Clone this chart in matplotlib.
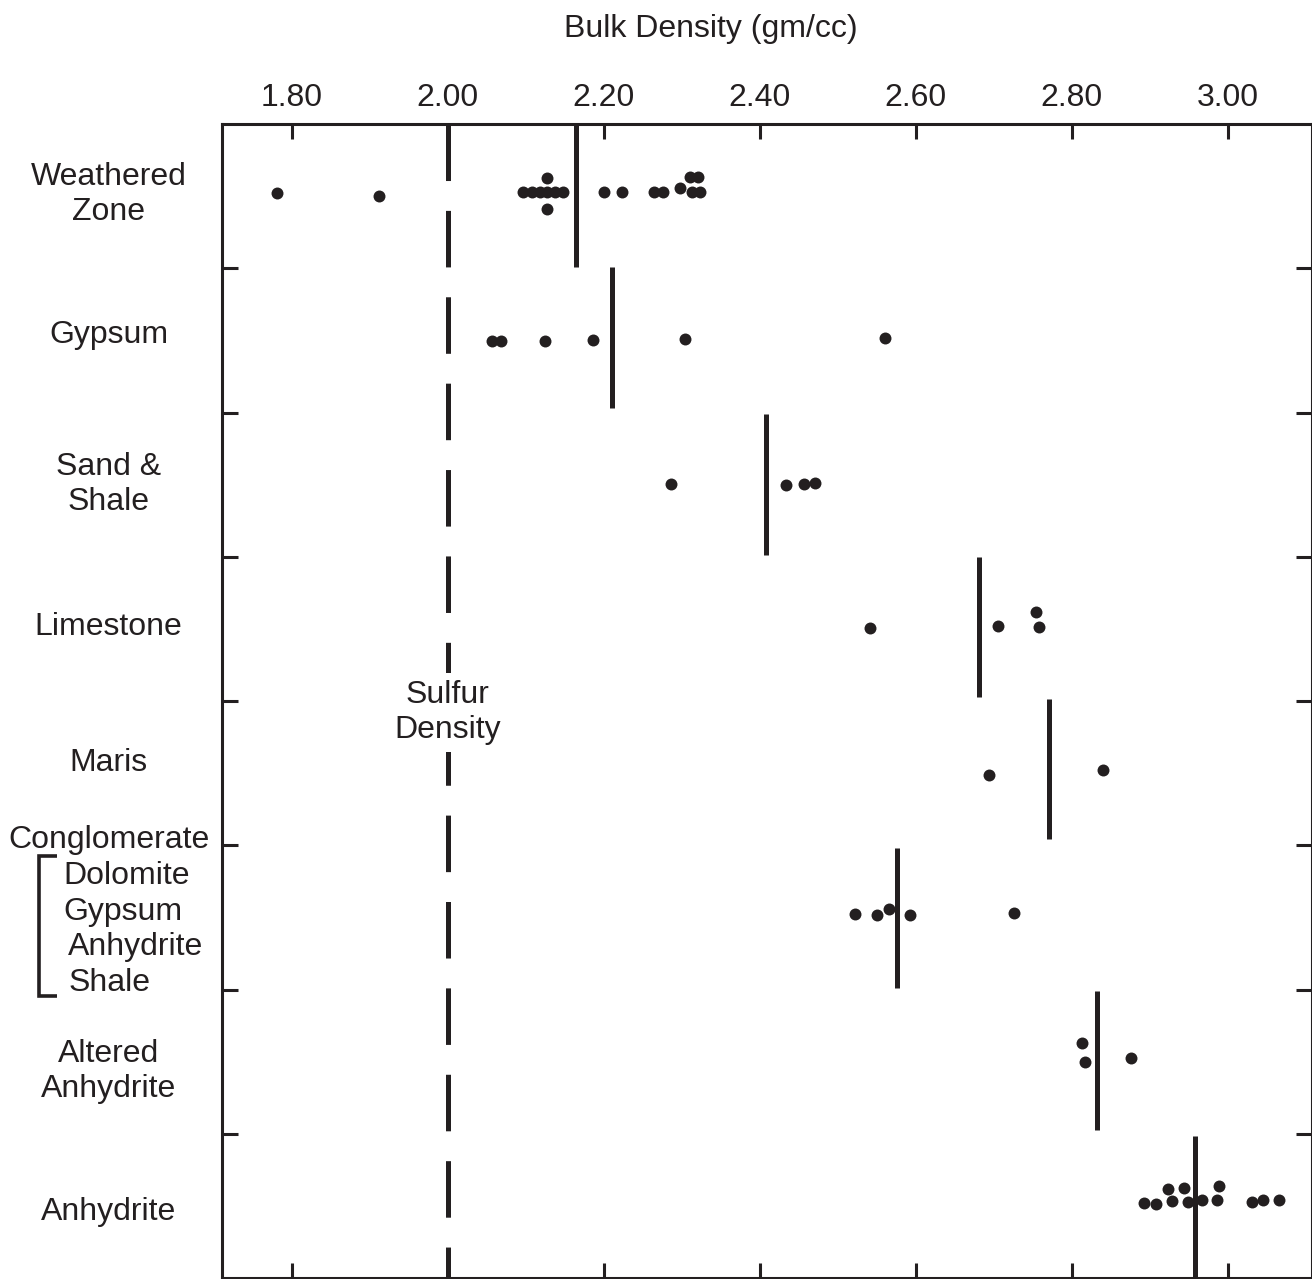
import matplotlib
matplotlib.use("Agg")
import matplotlib.pyplot as plt
from matplotlib.lines import Line2D
from matplotlib.transforms import blended_transform_factory

plt.rcParams['font.family'] = ['Liberation Sans', 'DejaVu Sans']
plt.rcParams['lines.scale_dashes'] = False

INK = '#231f20'

# ---------------- data ----------------
categories = ["Weathered\nZone", "Gypsum", "Sand &\nShale", "Limestone",
              "Maris", "Conglomerate", "Altered\nAnhydrite", "Anhydrite"]
conglomerate_parts = ["Dolomite", "Gypsum", "Anhydrite", "Shale"]

weathered_zone = [1.7815, 1.9123, 2.0962, 2.1077, 2.1183, 2.1277, 2.1376, 2.1482,
                  2.1277, 2.1277, 2.2008, 2.2238, 2.2649, 2.2764, 2.2978,
                  2.3106, 2.3209, 2.3128, 2.3235]
gypsum = [2.0572, 2.0687, 2.1241, 2.1860, 2.3038, 2.5603]
sand_shale = [2.2862, 2.4337, 2.4562, 2.4709]
limestone = [2.5414, 2.7059, 2.7538, 2.7581]
maris = [2.6944, 2.8397]
conglomerate = [2.5222, 2.5508, 2.5654, 2.5927, 2.7264]
altered_anhydrite = [2.8136, 2.8171, 2.8760]
anhydrite = [2.8927, 2.9081, 2.9231, 2.9282, 2.9440, 2.9495, 2.9667,
             2.9859, 2.9892, 3.0308, 3.0456, 3.0658]

means = [2.1645, 2.2106, 2.4086, 2.6815, 2.7713, 2.5760, 2.8324, 2.9581]
sulfur_density = 2.00

x_ticks = [1.80, 2.00, 2.20, 2.40, 2.60, 2.80, 3.00]
x_tick_labels = ["1.80", "2.00", "2.20", "2.40", "2.60", "2.80", "3.00"]

# dot-stacking offsets (row units) for overlapping points
weathered_stack = [-0.024, 0.0, -0.026, -0.026, -0.026, -0.026, -0.026, -0.026,
                   -0.129, 0.086, -0.028, -0.028, -0.028, -0.028, -0.054,
                   -0.134, -0.134, -0.031, -0.031]
gypsum_stack = [0.006, 0.006, 0.002, -0.003, -0.008, -0.019]
sand_stack = [-0.004, 0.003, -0.004, -0.011]
limestone_stack = [-0.008, -0.020, -0.119, -0.013]
maris_stack = [0.013, -0.021]
conglomerate_stack = [-0.021, -0.015, -0.056, -0.015, -0.031]
altered_stack = [-0.127, 0.001, -0.023]
anhydrite_stack = [-0.022, -0.011, -0.117, -0.036, -0.124, -0.029, -0.041,
                   -0.041, -0.138, -0.029, -0.041, -0.041]

groups = [weathered_zone, gypsum, sand_shale, limestone, maris,
          conglomerate, altered_anhydrite, anhydrite]
stacks = [weathered_stack, gypsum_stack, sand_stack, limestone_stack,
          maris_stack, conglomerate_stack, altered_stack, anhydrite_stack]

# ---------------- layout ----------------
W, H = 1312, 1279
FS = 23
def fx(px):
    return px / W
def fy(py):
    return 1 - py / H

fig = plt.figure(figsize=(W / 100, H / 100), dpi=100)
ax = fig.add_axes([fx(221.5), fy(1278), (1311.5 - 221.5) / W, (1278 - 124) / H])
ax.set_xlim(1.710, 3.1074)
ax.set_ylim(len(categories), 0)

mean_spans = [(0.0, 0.99), (-0.007, 0.971), (0.01, 0.986), (0.0, 0.97),
              (-0.016, 0.955), (0.021, 0.992), (0.008, 0.974), (0.014, 1.0)]

for i, (vals, offs) in enumerate(zip(groups, stacks)):
    ys = [i + 0.5 + o for o in offs]
    ax.plot(vals, ys, 'o', ms=8.6, color=INK, mec='none', zorder=3)
    s0, s1 = mean_spans[i]
    ax.plot([means[i], means[i]], [i + s0, i + s1], color=INK, lw=3.6,
            solid_capstyle='butt', zorder=2)

ax.plot([sulfur_density, sulfur_density], [0, len(categories)], color=INK, lw=3.6,
        linestyle=(0, (40.7, 21.5)), dash_capstyle='butt', zorder=1)
ax.text(sulfur_density, 4.08, "Sulfur\nDensity", ha='center', va='center',
        fontsize=FS, color=INK, linespacing=1.22,
        bbox=dict(boxstyle='square,pad=0.22', fc='white', ec='none'), zorder=4)

for sp in ax.spines.values():
    sp.set_linewidth(2.2)
    sp.set_color(INK)

ax.set_xticks(x_ticks)
ax.set_xticklabels(x_tick_labels)
ax.tick_params(axis='x', which='both', direction='in', top=True, bottom=True,
               labeltop=True, labelbottom=False, length=10.8, width=2.2, pad=8,
               labelsize=FS, colors=INK)
ax.set_yticks(range(1, len(categories)))
ax.tick_params(axis='y', direction='in', left=True, right=True, labelleft=False,
               labelright=False, length=11.5, width=2.2, colors=INK)

# category labels
trans = blended_transform_factory(fig.transFigure, ax.transData)
label_y = [0.49, 1.46, 2.50, 3.49, 4.43, 4.965, 6.57, 7.545]
for name, yy in zip(categories, label_y):
    ax.text(fx(108.5), yy, name, transform=trans, ha='center', va='center',
            fontsize=FS, color=INK, linespacing=1.22, clip_on=False)

part_x = [63, 63, 67.5, 68.5]
part_y = [5.215, 5.465, 5.708, 5.957]
for name, xx, yy in zip(conglomerate_parts, part_x, part_y):
    ax.text(fx(xx), yy, name, transform=trans, ha='left', va='center',
            fontsize=FS, color=INK, clip_on=False)

bracket = Line2D([fx(57), fx(38.5), fx(38.5), fx(57)],
                 [fy(856), fy(856), fy(996), fy(996)],
                 transform=fig.transFigure, color=INK, lw=2.6,
                 solid_joinstyle='miter', solid_capstyle='butt')
fig.add_artist(bracket)

fig.text(fx(711), fy(37), "Bulk Density (gm/cc)", ha='center', va='baseline',
         fontsize=FS, color=INK)

fig.savefig("out.png", dpi=100, facecolor='white')
